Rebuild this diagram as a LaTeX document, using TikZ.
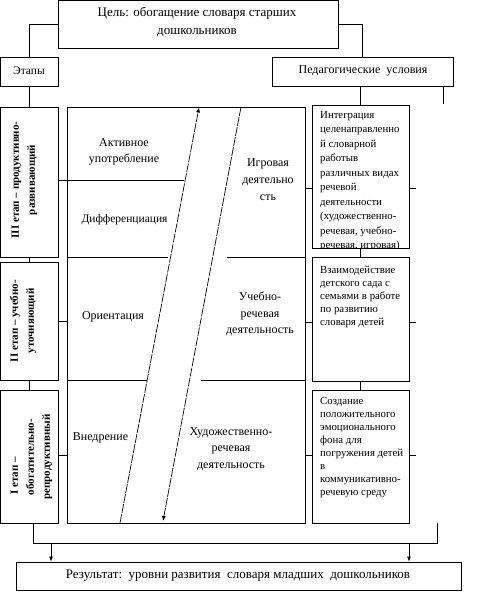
\documentclass[tikz,border=0pt]{standalone}
\usepackage{fontspec}
\setmainfont{Liberation Serif}
\usetikzlibrary{arrows.meta}
\begin{document}
\begin{tikzpicture}[x=1pt,y=-1pt,
  box/.style={draw,line width=0.8pt,rectangle,inner sep=0pt,anchor=center},
  conn/.style={line width=0.8pt},
  dline/.style={line width=0.7pt,dash pattern=on 9pt off 1.2pt},
  tip/.style={-{Latex[length=5pt,width=4pt]}},
  lbl/.style={font=\fontsize{12}{18}\selectfont,align=center,inner sep=0pt},
  mtxt/.style={font=\fontsize{12}{16.5}\selectfont,align=center,inner sep=0pt},
  rtxt/.style={font=\fontsize{10.8}{13}\selectfont,align=left,inner sep=0pt,anchor=north west},
  stxt/.style={font=\bfseries\fontsize{11}{16}\selectfont,align=center,inner sep=0pt,rotate=90}
]
\useasboundingbox (0,0) rectangle (491,605);
% boxes
\node[box,minimum width=280,minimum height=47.5] (goal) at (198,24.25) {};
\node[box,minimum width=57.5,minimum height=29] (etapy) at (29.25,71.5) {};
\node[box,minimum width=181,minimum height=29] (ped) at (362.5,71.5) {};
\node[box,minimum width=57.5,minimum height=150] (s3) at (29.25,182) {};
\node[box,minimum width=57.5,minimum height=118] (s2) at (29.25,321) {};
\node[box,minimum width=57.5,minimum height=133] (s1) at (29.25,456.5) {};
\node[box,minimum width=238,minimum height=416] (mid) at (186,315) {};
\node[box,minimum width=97,minimum height=143] (cA) at (360.5,176.5) {};
\node[box,minimum width=97,minimum height=124] (cB) at (360.5,319) {};
\node[box,minimum width=97,minimum height=133] (cC) at (360.5,456.5) {};
\node[box,minimum width=445,minimum height=28] (res) at (238.5,576) {};
% texts
\node[lbl,font=\fontsize{13}{18}\selectfont] (tgoal) at (197,22) {Цель: обогащение словаря старших\\дошкольников};
\node[lbl,font=\fontsize{11.5}{14}\selectfont] (tetapy) at (29,71) {Этапы};
\node[lbl] (tped) at (363,71) {Педагогические\ \ условия};
\node[lbl,font=\fontsize{13}{16}\selectfont] (tres) at (238,576) {Результат:\ \ уровни развития\ \ словаря младших\ \ дошкольников};
\node[stxt] (ts3) at (24.5,180) {III етап – продуктивно-\\развивающий};
\node[stxt] (ts2) at (23,321) {II етап – учебно-\\уточняющий};
\node[stxt] (ts1) at (31.5,457) {I етап –\rule{38pt}{0pt}\\обогатительно-\\репродуктивный};
\node[mtxt] (t1) at (124,152) {Активное\\употребление};
\node[mtxt,font=\fontsize{11.5}{14}\selectfont] (t2) at (124.5,220) {Дифференциация};
\node[mtxt,font=\fontsize{12}{17}\selectfont] (t3) at (268,180) {Игровая\\деятельно\\сть};
\node[mtxt] (t4) at (113,317) {Ориентация};
\node[mtxt] (t5) at (260,314) {Учебно-\\речевая\\деятельность};
\node[mtxt] (t6) at (100.5,438) {Внедрение};
\node[mtxt] (t7) at (231,449) {Художественно-\\речевая\\деятельность};
\begin{scope}
\clip (cA.north west) rectangle (cA.south east);
\node[rtxt,font=\fontsize{10.8}{14.5}\selectfont] (tA) at (320,111) {Интеграция\\целенаправленно\\й словарной\\работыв\\различных видах\\речевой\\деятельности\\(художественно-\\речевая, учебно-\\речевая, игровая)};
\end{scope}
\node[rtxt] (tB) at (320,266) {Взаимодействие\\детского сада с\\семьями в работе\\по развитию\\словаря детей};
\node[rtxt] (tC) at (320,397) {Создание\\положительного\\эмоционального\\фона для\\погружения детей\\в\\коммуникативно-\\речевую среду};
% helper coordinates
\coordinate (r0) at (0,180);
\coordinate (r1) at (0,188);
\coordinate (r2) at (0,322);
\coordinate (r3) at (0,455);
\coordinate (rs) at (416,0);
\coordinate (rt1) at (443,86);
\coordinate (rt2) at (443,104);
\coordinate (bl) at (33,523);
\coordinate (br) at (437,523);
\coordinate (bot) at (0,543);
\coordinate (ar1) at (51,543);
\coordinate (ar2) at (409,543);
\coordinate (h1) at (184,180);
\coordinate (h2a) at (168,257);
\coordinate (h2b) at (227,257);
\coordinate (h3a) at (147,380);
\coordinate (h3b) at (201,380);
\coordinate (up1) at (120,523);
\coordinate (up2) at (199,107.5);
\coordinate (dn1) at (241,107);
\coordinate (dn2) at (163,521);
% connectors
\draw[conn] (goal.west) -| (etapy.north);
\draw[conn] (goal.east) -| (ped.north);
\draw[conn] (etapy.south) -- (s3.north);
\draw[conn] (cA.north |- ped.south) -- (cA.north);
\draw[conn] (rt1) -- (rt2);
\draw[conn] (s3.south) -- (s2.north);
\draw[conn] (s2.south) -- (s1.north);
\draw[conn] (cA.south) -- (cB.north);
\draw[conn] (cB.south) -- (cC.north);
\draw[conn] (s3.east |- r0) -- (mid.west |- r0);
\draw[conn] (s2.east) -- (s2.east -| mid.west);
\draw[conn] (s1.east |- r3) -- (mid.west |- r3);
\draw[conn] (mid.east |- r1) -- (cA.west |- r1);
\draw[conn] (mid.east |- r2) -- (cB.west |- r2);
\draw[conn] (mid.east |- r3) -- (cC.west |- r3);
\draw[conn] (cA.east |- r1) -- (rs |- r1);
\draw[conn] (cB.east |- r2) -- (rs |- r2);
\draw[conn] (cC.east |- r3) -- (rs |- r3);
\draw[conn] (bl) -- (bl |- bot) -- (br |- bot) -- (br);
\draw[conn,tip] (ar1) -- (ar1 |- res.north);
\draw[conn,tip] (ar2) -- (ar2 |- res.north);
% inner lines
\draw[conn] (mid.west |- h1) -- (h1);
\draw[conn] (mid.west |- h2a) -- (h2a);
\draw[conn] (h2b) -- (mid.east |- h2b);
\draw[conn] (mid.west |- h3a) -- (h3a);
\draw[conn] (h3b) -- (mid.east |- h3b);
% dashed arrows
\draw[dline,tip] (up1) -- (up2);
\draw[dline,tip] (dn1) -- (dn2);
\end{tikzpicture}
\end{document}
